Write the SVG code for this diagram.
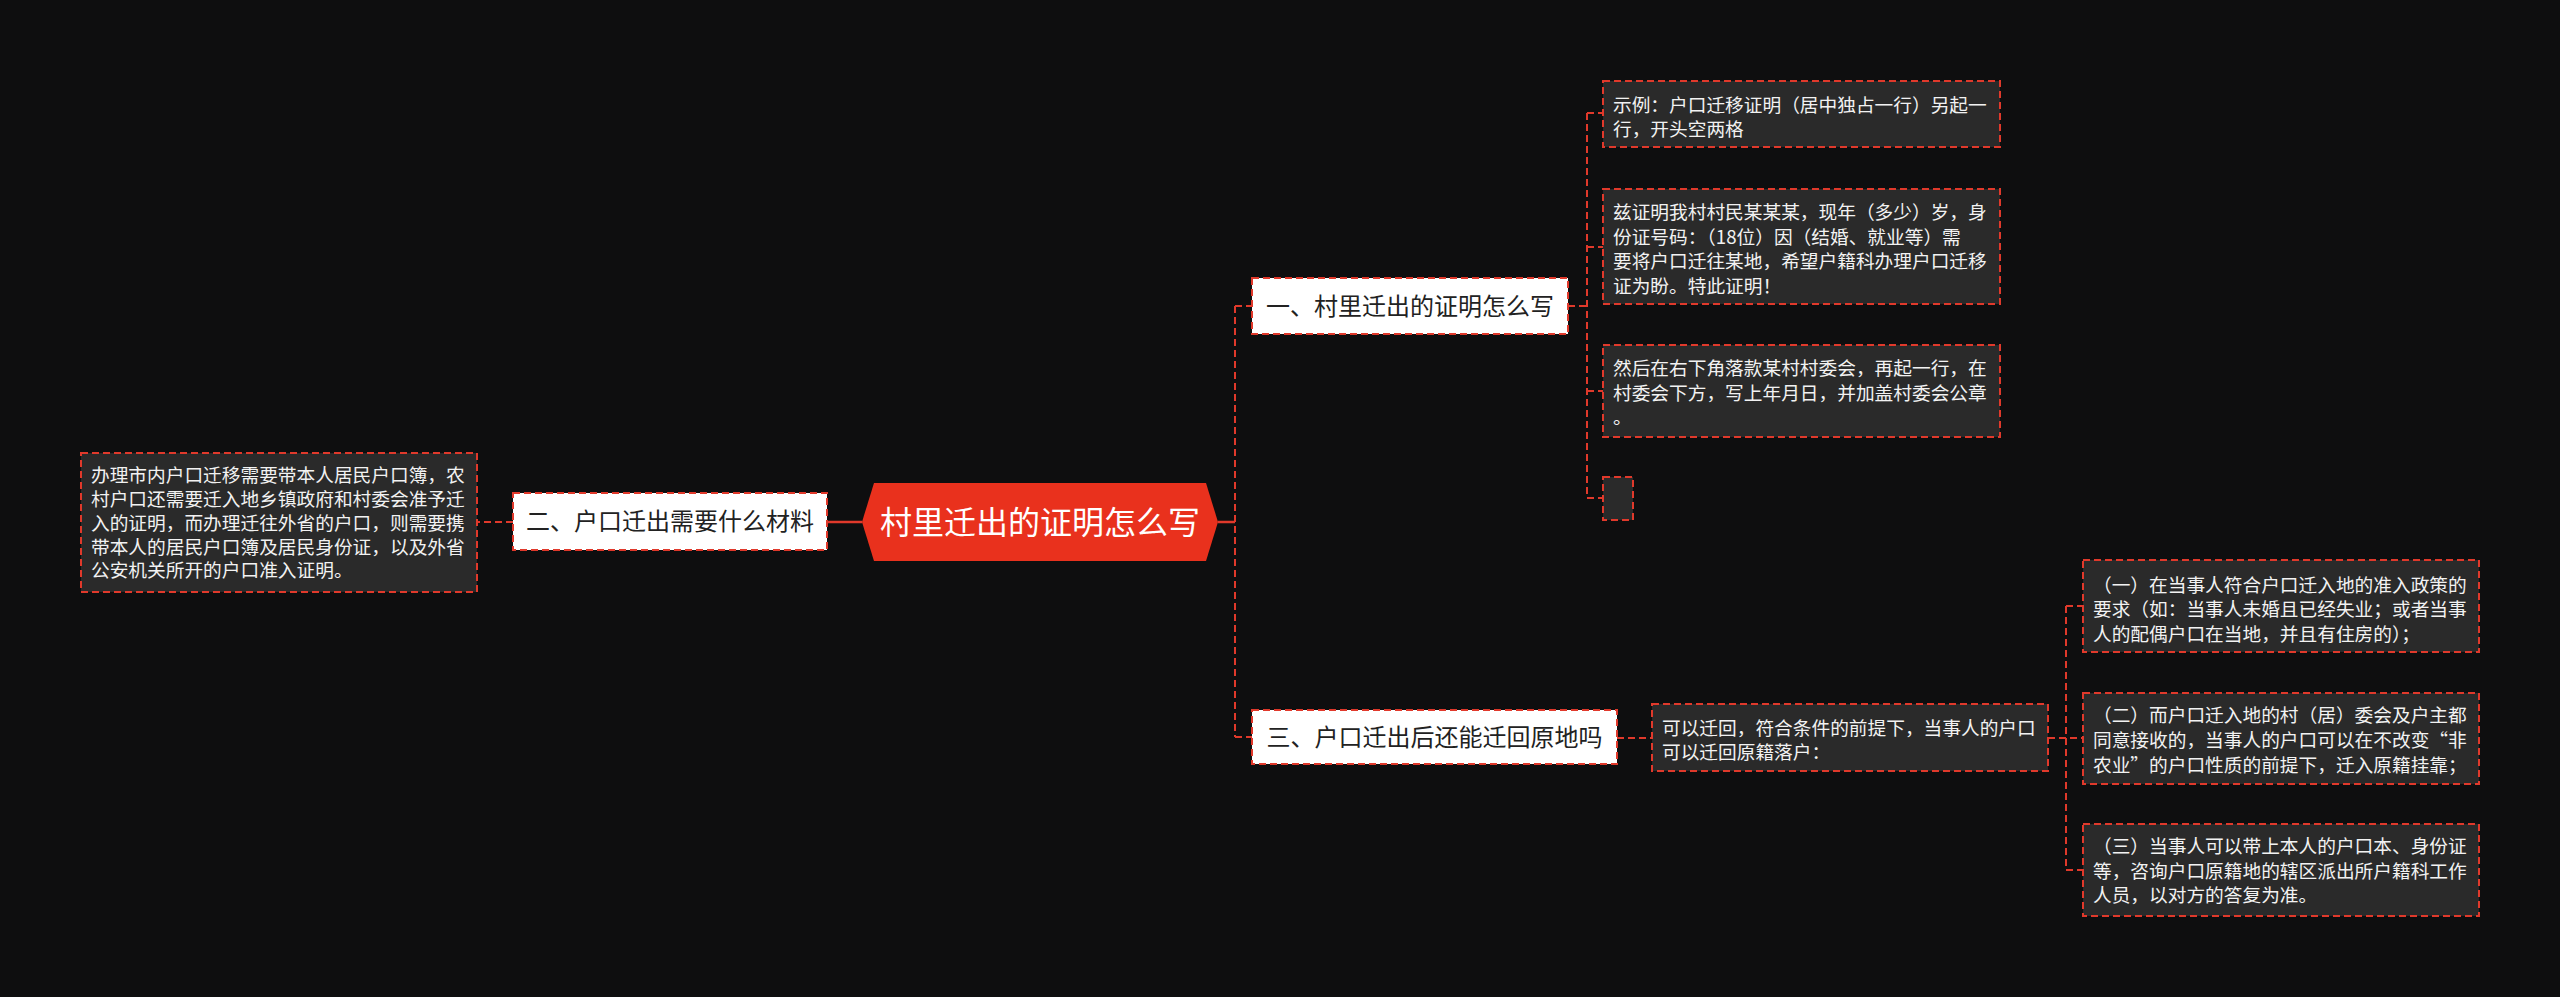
<svg xmlns="http://www.w3.org/2000/svg" width="2560" height="997" viewBox="0 0 2560 997">
<style>
.bg{fill:#0e0e0f}
.leaf{fill:#2a2a2a;stroke:#e0392b;stroke-width:2;stroke-dasharray:7,4}
.branch{fill:#ffffff;stroke:#e0392b;stroke-width:2;stroke-dasharray:7,4}
.lt{font-family:"Noto Sans CJK SC","Noto Sans",sans-serif;font-size:18.7px;fill:#f2f2f2}
.bt{font-family:"Noto Sans CJK SC","Noto Sans",sans-serif;font-size:24px;fill:#222222;text-anchor:middle}
.ct{font-family:"Noto Sans CJK SC","Noto Sans",sans-serif;font-size:32px;fill:#ffffff;text-anchor:middle}
.conn{fill:none;stroke:#e0392b;stroke-width:2;stroke-dasharray:7,4}
.solid{fill:none;stroke:#e0392b;stroke-width:2.5}
</style>
<rect class="bg" x="0" y="0" width="2560" height="997"/>
<g id="connectors">
<path class="solid" d="M1218 522 H1235"/>
<path class="conn" d="M1235 306 V737"/>
<path class="conn" d="M1235 306 H1252"/>
<path class="conn" d="M1235 737 H1252"/>
<path class="conn" d="M1568 306 H1587"/>
<path class="conn" d="M1587 113 V498"/>
<path class="conn" d="M1587 113 H1603"/>
<path class="conn" d="M1587 247 H1603"/>
<path class="conn" d="M1587 391 H1603"/>
<path class="conn" d="M1587 498 H1603"/>
<path class="conn" d="M1617 738 H1652"/>
<path class="conn" d="M2048 738 H2083"/>
<path class="conn" d="M2066 606 V870"/>
<path class="conn" d="M2066 606 H2083"/>
<path class="conn" d="M2066 870 H2083"/>
<path class="solid" d="M862 522 H827"/>
<path class="conn" d="M513 522 H477"/>
</g>
<g id="center">
<polygon points="862,522 874,483 1206,483 1218,522 1206,561 874,561" fill="#e9311d"/>
<text class="ct" x="1040" y="534">村里迁出的证明怎么写</text>
</g>
<g id="branch1">
<rect class="branch" x="1252" y="278" width="316" height="56"/>
<text class="bt" x="1410" y="315">一、村里迁出的证明怎么写</text>
</g>
<g id="leaf1">
<rect class="leaf" x="1603" y="81" width="397" height="66"/>
<text class="lt" x="1613" y="112">示例：户口迁移证明（居中独占一行）另起一</text>
<text class="lt" x="1613" y="136">行，开头空两格</text>
</g>
<g id="leaf2">
<rect class="leaf" x="1603" y="189" width="397" height="115"/>
<text class="lt" x="1613" y="219">兹证明我村村民某某某，现年（多少）岁，身</text>
<text class="lt" x="1613" y="243.5">份证号码：（18位）因（结婚、就业等）需</text>
<text class="lt" x="1613" y="268">要将户口迁往某地，希望户籍科办理户口迁移</text>
<text class="lt" x="1613" y="292.5">证为盼。特此证明！</text>
</g>
<g id="leaf3">
<rect class="leaf" x="1603" y="345" width="397" height="92"/>
<text class="lt" x="1613" y="375">然后在右下角落款某村村委会，再起一行，在</text>
<text class="lt" x="1613" y="400">村委会下方，写上年月日，并加盖村委会公章</text>
<text class="lt" x="1613" y="424">。</text>
</g>
<g id="leaf4">
<rect class="leaf" x="1603" y="477" width="30" height="43"/>
</g>
<g id="branch2">
<rect class="branch" x="513" y="493" width="314" height="57"/>
<text class="bt" x="670" y="530">二、户口迁出需要什么材料</text>
</g>
<g id="leftleaf">
<rect class="leaf" x="81" y="453" width="396" height="139"/>
<text class="lt" x="91" y="482">办理市内户口迁移需要带本人居民户口簿，农</text>
<text class="lt" x="91" y="506">村户口还需要迁入地乡镇政府和村委会准予迁</text>
<text class="lt" x="91" y="530">入的证明，而办理迁往外省的户口，则需要携</text>
<text class="lt" x="91" y="553.5">带本人的居民户口簿及居民身份证，以及外省</text>
<text class="lt" x="91" y="577">公安机关所开的户口准入证明。</text>
</g>
<g id="branch3">
<rect class="branch" x="1252" y="710" width="365" height="54"/>
<text class="bt" x="1434.5" y="746">三、户口迁出后还能迁回原地吗</text>
</g>
<g id="sub3">
<rect class="leaf" x="1652" y="704" width="396" height="67"/>
<text class="lt" x="1662" y="735">可以迁回，符合条件的前提下，当事人的户口</text>
<text class="lt" x="1662" y="759">可以迁回原籍落户：</text>
</g>
<g id="leafA">
<rect class="leaf" x="2083" y="560" width="396" height="92"/>
<text class="lt" x="2093" y="592">（一）在当事人符合户口迁入地的准入政策的</text>
<text class="lt" x="2093" y="616">要求（如：当事人未婚且已经失业；或者当事</text>
<text class="lt" x="2093" y="641">人的配偶户口在当地，并且有住房的）；</text>
</g>
<g id="leafB">
<rect class="leaf" x="2083" y="693" width="396" height="91"/>
<text class="lt" x="2093" y="722">（二）而户口迁入地的村（居）委会及户主都</text>
<text class="lt" x="2093" y="747">同意接收的，当事人的户口可以在不改变“非</text>
<text class="lt" x="2093" y="772">农业”的户口性质的前提下，迁入原籍挂靠；</text>
</g>
<g id="leafC">
<rect class="leaf" x="2083" y="824" width="396" height="92"/>
<text class="lt" x="2093" y="853">（三）当事人可以带上本人的户口本、身份证</text>
<text class="lt" x="2093" y="878">等，咨询户口原籍地的辖区派出所户籍科工作</text>
<text class="lt" x="2093" y="902">人员，以对方的答复为准。</text>
</g>
</svg>
